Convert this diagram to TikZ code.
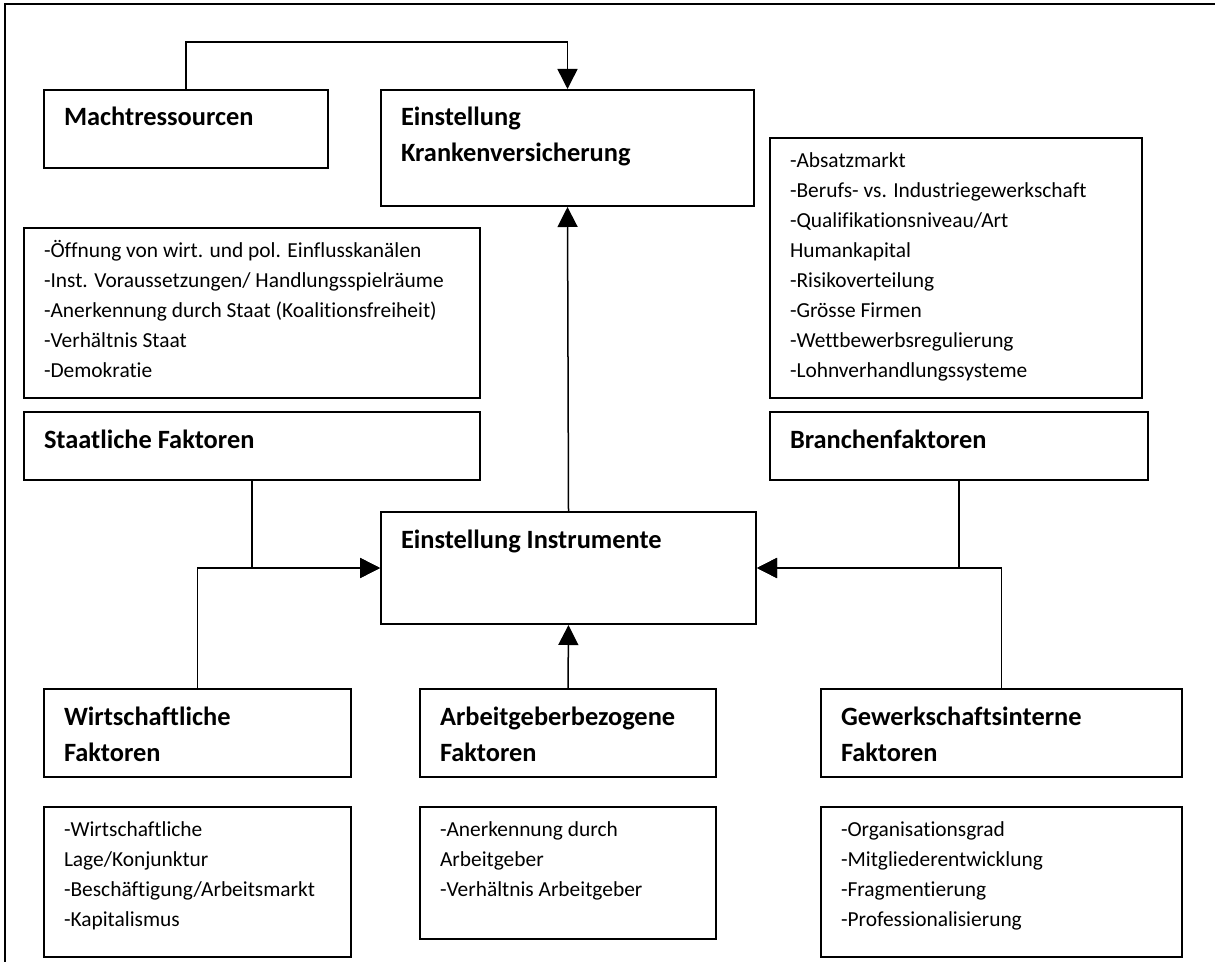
\documentclass[tikz,border=0pt]{standalone}
\usepackage{fontspec}
\setmainfont{Carlito}[Ligatures=NoCommon]
\usepackage{tikz}
\usetikzlibrary{arrows.meta}
\newcommand{\boxhead}[3]{\begin{minipage}[c][#2][t]{#1}\raggedright\leftskip=10pt
  \bfseries\fontsize{13.2}{18}\selectfont\rule{0pt}{18pt}#3\end{minipage}}
\newcommand{\boxlist}[3]{\begin{minipage}[c][#2][t]{#1}\raggedright\leftskip=10pt
  \fontsize{10.7}{15}\selectfont\rule{0pt}{14.75pt}#3\end{minipage}}

\begin{document}
\begin{tikzpicture}[x=0.5pt,y=-0.5pt]
  \tikzstyle{box}=[draw,line width=1pt,inner sep=0pt,anchor=north west]
  \tikzstyle{link}=[line width=0.75pt,-{Triangle[length=10pt,width=10pt]}]
  \useasboundingbox (0,0) rectangle (1215,962);
  \draw[line width=1pt] (5,4) rectangle (1230,980);
  % top row
  \node[box] (macht) at (43,89) {\boxhead{142pt}{39pt}{Machtressourcen}};
  \node[box] (kranken) at (380,89) {\boxhead{186.5pt}{58pt}{Einstellung\\Krankenversicherung}};
  % lists of factors
  \node[box] (staatlist) at (23,227) {\boxlist{228pt}{85pt}{-Öffnung von wirt. und pol. Einflusskanälen\\
    -Inst. Voraussetzungen/ Handlungsspielräume\\-Anerkennung durch Staat (Koalitionsfreiheit)\\
    -Verhältnis Staat\\-Demokratie}};
  \node[box] (branchlist) at (769,137) {\boxlist{186pt}{130pt}{-Absatzmarkt\\
    -Berufs- vs. Industriegewerkschaft\\-Qualifikationsniveau/Art\\Humankapital\\-Risikoverteilung\\
    -Grösse Firmen\\-Wettbewerbsregulierung\\-Lohnverhandlungssysteme}};
  \node[box] (staat) at (23,411) {\boxhead{228pt}{34pt}{Staatliche Faktoren}};
  \node[box] (branchen) at (769,411) {\boxhead{189pt}{34pt}{Branchenfaktoren}};
  \node[box] (instr) at (380,511) {\boxhead{187.5pt}{56pt}{Einstellung Instrumente}};
  % bottom row
  \node[box] (wirt) at (43,688) {\boxhead{153.5pt}{44pt}{Wirtschaftliche\\Faktoren}};
  \node[box] (arbg) at (419,688) {\boxhead{148pt}{44pt}{Arbeitgeberbezogene\\Faktoren}};
  \node[box] (gew) at (820,688) {\boxhead{180.5pt}{44pt}{Gewerkschaftsinterne\\Faktoren}};
  \node[box] (wirtlist) at (43,806) {\boxlist{153.5pt}{75pt}{-Wirtschaftliche\\Lage/Konjunktur\\
    -Beschäftigung/Arbeitsmarkt\\-Kapitalismus}};
  \node[box] (arbglist) at (419,806) {\boxlist{148pt}{66pt}{-Anerkennung durch\\Arbeitgeber\\
    -Verhältnis Arbeitgeber}};
  \node[box] (gewlist) at (820,806) {\boxlist{180.5pt}{75pt}{-Organisationsgrad\\
    -Mitgliederentwicklung\\-Fragmentierung\\-Professionalisierung}};
  % connectors
  \coordinate (over) at (kranken.north |- 0,42);
  \draw[link] (macht.north) |- (over) -- (kranken.north);
  \draw[link] (instr.north) -- (kranken.south);
  \draw[link] (staat.south) |- (instr.west);
  \draw[link] (wirt.north) |- (instr.west);
  \draw[link] (branchen.south) |- (instr.east);
  \draw[link] (gew.north) |- (instr.east);
  \draw[link] (arbg.north) -- (instr.south);
\end{tikzpicture}
\end{document}
